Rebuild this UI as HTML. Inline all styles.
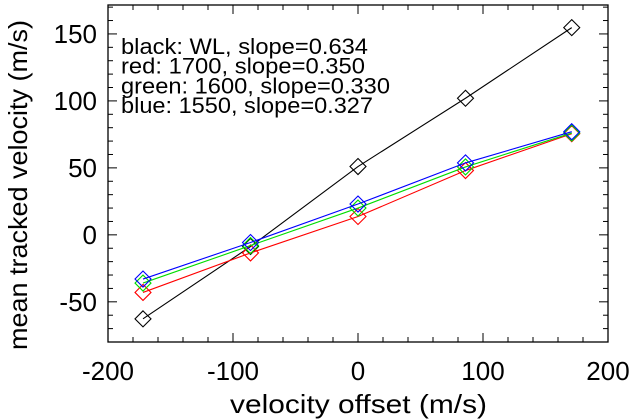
<!DOCTYPE html>
<html><head><meta charset="utf-8"><style>
body{margin:0;background:#fff;width:632px;height:420px;overflow:hidden}
svg{display:block;font-family:"Liberation Sans",sans-serif}
</style></head><body>
<svg id="c" width="632" height="420"></svg>
<script>
const xs=[-172,-86,0,86,171];
const black=[-62.7,-8.7,51,102,154.7];
const red=[-43,-13.5,13.7,48,75.5];
const green=[-36,-8,20,50.7,76];
const blue=[-33,-5.7,23,53.7,77];
const xTicks=[-200,-100,0,100,200];
const yTicks=[-50,0,50,100,150];
const legendLines=["black: WL, slope=0.634","red: 1700, slope=0.350","green: 1600, slope=0.330","blue: 1550, slope=0.327"];
const legendW=[247,244,269,252];
const L=108,R=608,T=5,B=342,xmin=-200,xmax=200,ymin=-80,ymax=171.6;
const X=v=>L+(v-xmin)/(xmax-xmin)*(R-L);
const Y=v=>B-(v-ymin)/(ymax-ymin)*(B-T);
const svg=document.getElementById('c');
const NS='http://www.w3.org/2000/svg';
function mk(t,a){const e=document.createElementNS(NS,t);for(const k in a)e.setAttribute(k,a[k]);svg.appendChild(e);return e;}
let f=mk('rect',{x:L,y:T,width:R-L,height:B-T,fill:'none',stroke:'#000','stroke-width':1.3});


for(let v=-200;v<=200;v+=20){const maj=v%100===0,len=maj?9:5;
 mk('line',{x1:X(v),x2:X(v),y1:B,y2:B-len,stroke:'#000'});
 mk('line',{x1:X(v),x2:X(v),y1:T,y2:T+len,stroke:'#000'});}
for(let v=-80;v<=170;v+=10){const maj=v%50===0,len=maj?9:5;
 mk('line',{x1:L,x2:L+len,y1:Y(v),y2:Y(v),stroke:'#000'});
 mk('line',{x1:R,x2:R-len,y1:Y(v),y2:Y(v),stroke:'#000'});}
xTicks.forEach(v=>{const t=mk('text',{x:X(v),y:380,'font-size':26,'text-anchor':'middle'});t.textContent=v;
 
 });
yTicks.forEach(v=>{const t=mk('text',{x:L-11,y:Y(v)+9,'font-size':26,'text-anchor':'end'});t.textContent=v;
 
 });
let xt=mk('text',{x:230,y:413,'font-size':26,textLength:257,lengthAdjust:'spacingAndGlyphs'});xt.textContent='velocity offset (m/s)';


let yt=mk('text',{x:0,y:0,'font-size':26,textLength:330,lengthAdjust:'spacingAndGlyphs',transform:'translate(27,350) rotate(-90)'});yt.textContent='mean tracked velocity (m/s)';


[[black,'#000','black'],[red,'#f00','red'],[green,'#0d0','green'],[blue,'#00f','blue']].forEach(([s,c,n])=>{
 const p=mk('polyline',{points:xs.map((x,i)=>X(x)+','+Y(s[i])).join(' '),fill:'none',stroke:c,'stroke-width':1.1});
 
 
 xs.forEach((x,i)=>{const cx=X(x),cy=Y(s[i]),r=8;
  const m=mk('polygon',{points:`${cx},${cy-r} ${cx+r},${cy} ${cx},${cy+r} ${cx-r},${cy}`,fill:'none',stroke:c,'stroke-width':1.1});
  
  });
});
legendLines.forEach((s,i)=>{const t=mk('text',{x:121,y:54+i*19.7,'font-size':22,textLength:legendW[i],lengthAdjust:'spacingAndGlyphs'});t.textContent=s;
 
 });
</script>
</body></html>
